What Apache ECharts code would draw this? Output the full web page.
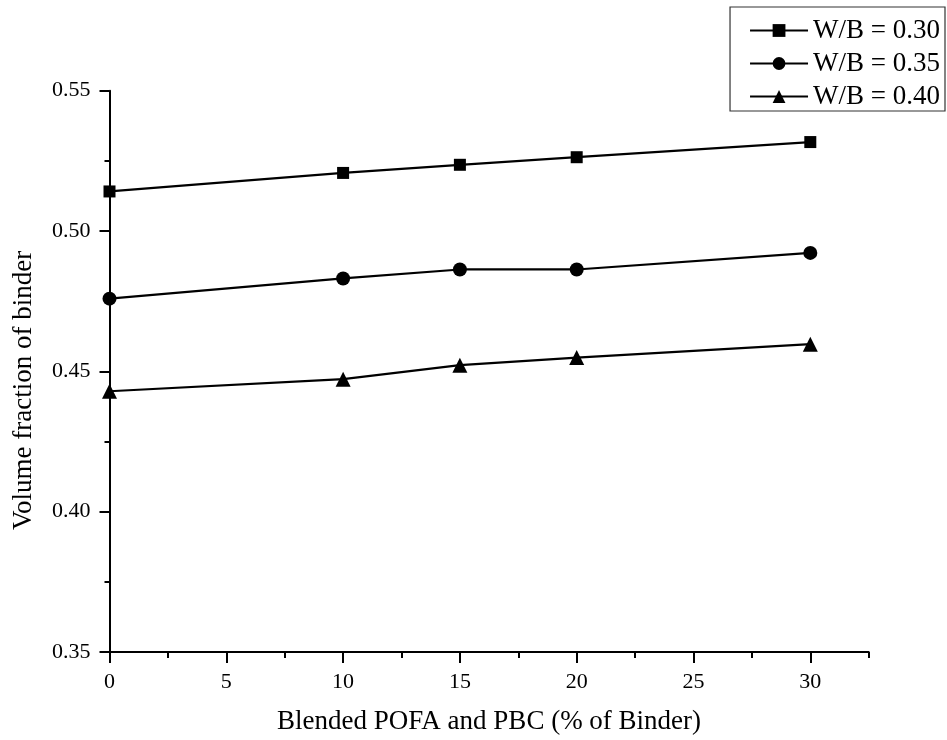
<!DOCTYPE html>
<html>
<head>
<meta charset="utf-8">
<script src="https://cdn.jsdelivr.net/npm/echarts@6/dist/echarts.min.js"></script>
<style>
  html, body { margin: 0; padding: 0; background: #fff; }
  #chart { width: 947px; height: 740px; }
</style>
</head>
<body>
<div id="chart"></div>
<script>
// Replacement level of blended POFA + PBC (% of binder)
const replacement = [0, 10, 15, 20, 30];

// Volume fraction of binder for each water/binder ratio
const wb030 = [0.5141, 0.5207, 0.5236, 0.5263, 0.5317];
const wb035 = [0.4759, 0.4831, 0.4863, 0.4863, 0.4922];
const wb040 = [0.4429, 0.4472, 0.4522, 0.4549, 0.4597];

const seriesNames = ['W/B = 0.30', 'W/B = 0.35', 'W/B = 0.40'];
const seriesSymbols = ['rect', 'circle', 'triangle'];

// Axis ticks
const xMajorTicks = [0, 5, 10, 15, 20, 25, 30];
const xMinorTicks = [2.5, 7.5, 12.5, 17.5, 22.5, 27.5, 32.5];

const FONT = '"Liberation Serif", "Times New Roman", serif';

const chart = echarts.init(document.getElementById('chart'), null, { renderer: 'canvas' });

const pairs = (ys) => replacement.map((x, i) => [x, ys[i]]);
const symbolSizes = { rect: 12, circle: 14, triangle: 15 };

const series = [wb030, wb035, wb040].map((ys, i) => ({
  name: seriesNames[i],
  type: 'line',
  data: pairs(ys),
  symbol: seriesSymbols[i],
  symbolSize: symbolSizes[seriesSymbols[i]],
  showAllSymbol: true,
  lineStyle: { color: '#000', width: 2.2 },
  itemStyle: { color: '#000' },
  emphasis: { disabled: true },
  clip: false,
  z: 3
}));

chart.setOption({
  animation: false,
  backgroundColor: '#fff',
  grid: { left: 109.5, right: 78.3, top: 90.7, bottom: 87.7, containLabel: false },
  legend: {
    data: seriesNames,
    orient: 'vertical',
    right: 2,
    top: 7,
    padding: [10, 5, 1, 19],
    itemGap: 6,
    itemWidth: 58,
    itemHeight: 16,
    borderColor: '#333',
    borderWidth: 1.2,
    borderRadius: 0,
    backgroundColor: '#fff',
    textStyle: { fontFamily: FONT, fontSize: 27, color: '#000' },
    selectedMode: false
  },
  xAxis: [
    {
      type: 'value',
      min: 0,
      max: 32.5,
      interval: 5,
      name: 'Blended POFA and PBC (% of Binder)',
      nameLocation: 'middle',
      nameGap: 56,
      nameTextStyle: { fontFamily: FONT, fontSize: 27, color: '#000' },
      axisLine: { show: true, onZero: false, lineStyle: { color: '#000', width: 2 } },
      axisTick: { show: true, inside: false, length: 11, customValues: xMajorTicks, lineStyle: { color: '#000', width: 2 } },
      axisLabel: { show: true, margin: 19, customValues: xMajorTicks, fontFamily: FONT, fontSize: 22, color: '#000' },
      splitLine: { show: false }
    },
    {
      // minor ticks of the horizontal axis
      type: 'value',
      position: 'bottom',
      min: 0,
      max: 32.5,
      interval: 5,
      axisLine: { show: false, onZero: false },
      axisTick: { show: true, inside: false, length: 6, customValues: xMinorTicks, lineStyle: { color: '#000', width: 2 } },
      axisLabel: { show: false },
      splitLine: { show: false }
    }
  ],
  yAxis: {
    type: 'value',
    min: 0.35,
    max: 0.55,
    interval: 0.05,
    name: 'Volume fraction of binder',
    nameLocation: 'middle',
    nameGap: 72,
    nameTextStyle: { fontFamily: FONT, fontSize: 27, color: '#000', padding: [0, 38, 0, 0] },
    axisLine: { show: true, onZero: false, lineStyle: { color: '#000', width: 2 } },
    axisTick: { show: true, inside: false, length: 10, lineStyle: { color: '#000', width: 2 } },
    minorTick: { show: true, splitNumber: 2, length: 5, lineStyle: { color: '#000', width: 2 } },
    axisLabel: {
      margin: 19,
      fontFamily: FONT,
      fontSize: 22,
      color: '#000',
      formatter: (v) => v.toFixed(2)
    },
    splitLine: { show: false },
    minorSplitLine: { show: false }
  },
  series: series
});
</script>
</body>
</html>
